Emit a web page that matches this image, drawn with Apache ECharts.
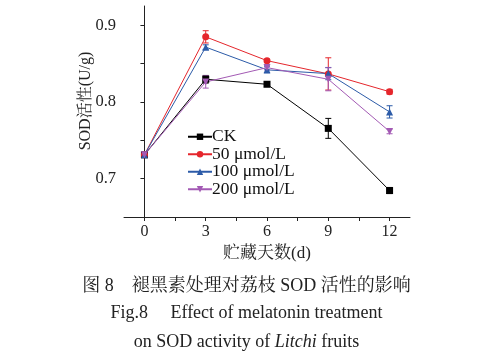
<!DOCTYPE html>
<html><head><meta charset="utf-8">
<script src="https://cdn.jsdelivr.net/npm/echarts@6/dist/echarts.min.js"></script>
<style>html,body{margin:0;padding:0;background:#fff}#c{width:493px;height:362px}</style>
</head><body><div id="c"></div>
<script>
const days = [0, 3, 6, 9, 12];
const seriesNames = ['CK', '50 μmol/L', '100 μmol/L', '200 μmol/L'];
const ckValues = [0.731, 0.8295, 0.823, 0.7655, 0.6845];
const ckErrors = [0.001, 0.005, 0.002, 0.013, 0.004];
const v50Values = [0.731, 0.8848, 0.8538, 0.8365, 0.8133];
const v50Errors = [0.001, 0.008, 0.002, 0.021, 0.003];
const v100Values = [0.731, 0.8714, 0.8418, 0.8369, 0.787];
const v100Errors = [0.001, 0.003, 0.004, 0.008, 0.008];
const v200Values = [0.731, 0.826, 0.8447, 0.8295, 0.7615];
const v200Errors = [0.001, 0.008, 0.003, 0.015, 0.003];
const xTickValues = [0, 1.5, 3, 4.5, 6, 7.5, 9, 10.5, 12];
const xLabelValues = [0, 3, 6, 9, 12];
const yTickValues = [0.7, 0.75, 0.8, 0.85, 0.9];
const yLabelValues = [0.7, 0.8, 0.9];

const colors = ['#000000', '#e5262c', '#2c5ba8', '#a35ab4'];
const symbols = ['rect', 'circle', 'triangle', 'triangle'];
const rotates = [0, 0, 0, 180];
const allValues = [ckValues, v50Values, v100Values, v200Values];
const allErrors = [ckErrors, v50Errors, v100Errors, v200Errors];

const serif = '"Liberation Serif", "Times New Roman", "Noto Serif CJK SC", "Noto Sans CJK SC", serif';
const series = [];
seriesNames.forEach((name, i) => {
  series.push({
    name: name, type: 'line',
    data: days.map((d, k) => [d, allValues[i][k]]),
    symbol: symbols[i], symbolRotate: rotates[i], symbolSize: 7,
    lineStyle: { color: colors[i], width: 1 },
    itemStyle: { color: colors[i] },
    z: 5
  });
  series.push({
    name: name, type: 'custom',
    data: days.map((d, k) => [d, allValues[i][k] - allErrors[i][k], allValues[i][k] + allErrors[i][k]]),
    renderItem: function (params, api) {
      const lo = api.coord([api.value(0), api.value(1)]);
      const hi = api.coord([api.value(0), api.value(2)]);
      const w = 3;
      const st = { stroke: colors[i], lineWidth: 1 };
      return { type: 'group', children: [
        { type: 'line', shape: { x1: lo[0], y1: lo[1], x2: hi[0], y2: hi[1] }, style: st },
        { type: 'line', shape: { x1: lo[0] - w, y1: lo[1], x2: lo[0] + w, y2: lo[1] }, style: st },
        { type: 'line', shape: { x1: hi[0] - w, y1: hi[1], x2: hi[0] + w, y2: hi[1] }, style: st }
      ]};
    },
    z: 4, silent: true
  });
});

const chart = echarts.init(document.getElementById('c'));
chart.setOption({
  animation: false,
  backgroundColor: '#fff',
  grid: { left: 124, right: 83, top: 6, bottom: 145 },
  legend: {
    data: seriesNames, orient: 'vertical', left: 182, top: 123,
    itemWidth: 24, itemHeight: 8, itemGap: 0,
    textStyle: { fontFamily: serif, fontSize: 17.5, lineHeight: 17, color: '#111', padding: [0, 0, 0, -5] }
  },
  xAxis: {
    type: 'value', min: -1, max: 13,
    name: '贮藏天数(d)', nameLocation: 'middle', nameGap: 24,
    nameTextStyle: { fontFamily: serif, fontSize: 17, color: '#222' },
    axisLine: { lineStyle: { color: '#222', width: 1 } },
    axisTick: { customValues: xTickValues, length: 4, lineStyle: { color: '#222' } },
    axisLabel: { customValues: xLabelValues, fontFamily: serif, fontSize: 16, color: '#222', margin: 7 },
    splitLine: { show: false }
  },
  yAxis: {
    type: 'value', min: 0.65, max: 0.925,
    axisLine: { show: true, lineStyle: { color: '#222', width: 1 } },
    axisTick: { show: true, customValues: yTickValues, length: 4, lineStyle: { color: '#222' } },
    axisLabel: { customValues: yLabelValues, fontFamily: serif, fontSize: 16.5, color: '#222', margin: 8,
      formatter: v => v.toFixed(1) },
    splitLine: { show: false }
  },
  graphic: [
    { type: 'text', x: 86, y: 101, rotation: Math.PI / 2,
      style: { text: 'SOD活性(U/g)', font: '16px ' + serif, fill: '#222', align: 'center', verticalAlign: 'middle' } },
    { type: 'text', left: 'center', top: 277, style: { text: '图 8　褪黑素处理对荔枝 SOD 活性的影响', font: '18px ' + serif, fill: '#222' } },
    { type: 'text', left: 'center', top: 304, style: { text: 'Fig.8　 Effect of melatonin treatment', font: '18px ' + serif, fill: '#222' } },
    { type: 'text', left: 'center', top: 333, style: {
      text: '{n|on SOD activity of }{i|Litchi}{n| fruits}',
      rich: { n: { font: '18px ' + serif, fill: '#222' }, i: { font: 'italic 18px ' + serif, fill: '#222' } } } }
  ],
  series: series
});
</script></body></html>
